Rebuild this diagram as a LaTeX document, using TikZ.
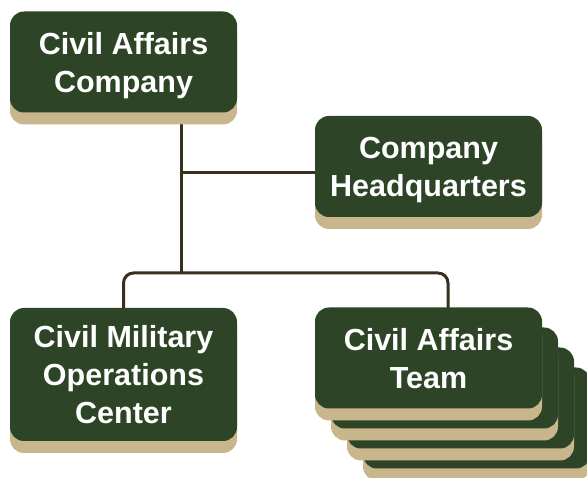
\documentclass[tikz,border=0pt]{standalone}
\usepackage{fontspec}
\setmainfont{Liberation Sans}
\usetikzlibrary{shadows,backgrounds}
\definecolor{boxgreen}{HTML}{2D4426}
\definecolor{boxtan}{HTML}{C8B68C}
\definecolor{linebrown}{HTML}{3A2F1F}
\begin{document}
\begin{tikzpicture}[x=1pt,y=-1pt,
  orgbox/.style={rectangle, rounded corners=14pt, fill=boxgreen, text=white,
    minimum width=227pt, inner sep=0pt, align=center, text depth=0pt,
    font=\fontsize{30.5}{38}\selectfont\bfseries,
    general shadow={fill=boxtan, shadow yshift=-12pt}},
  conn/.style={draw=linebrown, line width=3pt}]
\useasboundingbox (0,0) rectangle (587,478);
\node[orgbox, minimum height=101pt] (top) at (123.5,62) {Civil Affairs\\Company};
\node[orgbox, minimum height=101pt] (hq) at (428.5,166.5) {Company\\Headquarters};
\node[orgbox, minimum height=133pt] (cmoc) at (123.5,374.5) {Civil Military\\Operations\\Center};
\node[orgbox, minimum height=101pt] (cat4) at (476.5,418) {};
\node[orgbox, minimum height=101pt] (cat3) at (460.5,398) {};
\node[orgbox, minimum height=101pt] (cat2) at (444.5,378) {};
\node[orgbox, minimum height=101pt] (cat1) at (428.5,358) {Civil Affairs\\Team};
\coordinate (j1) at (181,173);
\coordinate (bus) at (181,273);
\coordinate (catin) at (448,310);
\begin{scope}[on background layer]
\draw[conn] (top.south -| bus) -- (bus);
\draw[conn] (j1) -- (j1 -| hq.west);
\draw[conn, rounded corners=10pt] (cmoc.north) |- (bus) -| (catin);
\end{scope}
\end{tikzpicture}
\end{document}
